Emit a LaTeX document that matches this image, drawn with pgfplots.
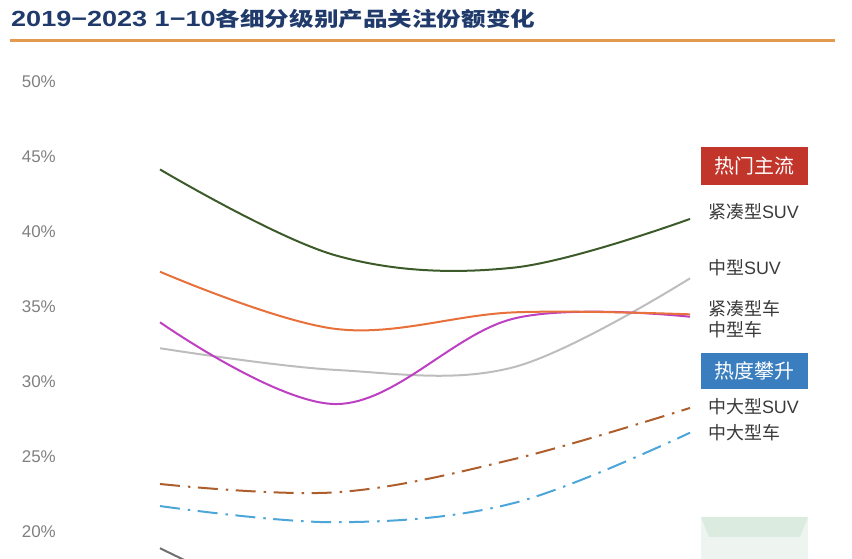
\documentclass[border=0pt]{standalone}
\usepackage{pgfplots}
\pgfplotsset{compat=1.18}
\usepackage{fontspec}
\setmainfont{Liberation Sans}
\newfontfamily\cjk{Noto Sans CJK SC}
\definecolor{ctitle}{HTML}{1F3A6B}
\definecolor{crule}{HTML}{E39A4F}
\definecolor{ctick}{HTML}{808080}
\definecolor{clabel}{HTML}{3A3A3A}
\definecolor{cred}{HTML}{C2352B}
\definecolor{cblue}{HTML}{3A7EBF}
\definecolor{cgreen}{HTML}{3D5A2B}
\definecolor{corange}{HTML}{E8703A}
\definecolor{cmag}{HTML}{BD3FC2}
\definecolor{clgray}{HTML}{BDBDBD}
\definecolor{cbrown}{HTML}{AE5E2C}
\definecolor{cdash}{HTML}{4DA6DA}
\definecolor{cdgray}{HTML}{707070}
\definecolor{cbox}{HTML}{DCEBDF}
\definecolor{cboxl}{HTML}{EEF5F0}
\begin{document}
\begin{tikzpicture}[x=1bp,y=1bp]
\path[use as bounding box] (0,0) rectangle (852,559);
% title
\node[anchor=west, inner sep=0pt, text=ctitle] at (11,540)
  {\resizebox{524bp}{\height}{\bfseries\fontsize{22}{22}\selectfont 2019−2023 1−10{\cjk\fontsize{20}{20}\selectfont 各细分级别产品关注份额变化}}};
\draw[crule, line width=3bp] (10,518) -- (835,518);
% bottom right faded box
\fill[cboxl] (701,0) rectangle (808,42);
\fill[cbox] (701,42) -- (808,42) -- (800,22) -- (709,22) -- cycle;
% axis
\begin{axis}[
  at={(160bp,0bp)}, anchor=south west,
  scale only axis, width=530bp, height=492.3bp,
  xmin=0, xmax=3, ymin=18.18, ymax=51,
  clip=false,
  axis line style={draw=none},
  major tick length=0pt,
  xtick=\empty,
  ytick={20,25,30,35,40,45,50},
  yticklabel={\pgfmathprintnumber{\tick}\%},
  /pgf/number format/assume math mode=true,
  yticklabel style={font=\fontsize{17}{17}\selectfont, text=ctick, anchor=east, inner sep=0pt, xshift=-104bp},
  every axis plot/.append style={smooth, tension=0.6, line width=2bp},
]
\addplot[cdgray] coordinates {(0,18.9) (1,14.0) (2,13.0) (3,12.5)};
\addplot[cdash, dash pattern=on 20bp off 8bp on 2.5bp off 7.5bp] coordinates {(0,21.71) (1,20.63) (2,21.9) (3,26.6)};
\addplot[cbrown, dash pattern=on 20bp off 8bp on 2.5bp off 7.5bp] coordinates {(0,23.18) (1,22.63) (2,24.83) (3,28.25)};
\addplot[clgray] coordinates {(0,32.23) (1,30.78) (2,30.96) (3,36.89)};
\addplot[cmag] coordinates {(0,33.96) (1,28.51) (2,34.2) (3,34.33)};
\addplot[corange] coordinates {(0,37.33) (1,33.51) (2,34.62) (3,34.49)};
\addplot[cgreen] coordinates {(0,44.15) (1,38.4) (2,37.6) (3,40.85)};
\end{axis}
% label boxes
\fill[cred] (701,374) rectangle (808,412);
\node[text=white, inner sep=0pt] at (754.5,393) {\cjk\fontsize{20}{20}\selectfont 热门主流};
\fill[cblue] (701,170) rectangle (808,206);
\node[text=white, inner sep=0pt] at (754.5,188) {\cjk\fontsize{20}{20}\selectfont 热度攀升};
\begin{scope}[every node/.style={anchor=west, inner sep=0pt, text=clabel, font=\fontsize{18}{18}\selectfont}]
\node at (708,347) {{\cjk 紧凑型}SUV};
\node at (708,291) {{\cjk 中型}SUV};
\node at (708,250) {\cjk 紧凑型车};
\node at (708,229) {\cjk 中型车};
\node at (708,152) {{\cjk 中大型}SUV};
\node at (708,126) {\cjk 中大型车};
\end{scope}
\end{tikzpicture}
\end{document}
